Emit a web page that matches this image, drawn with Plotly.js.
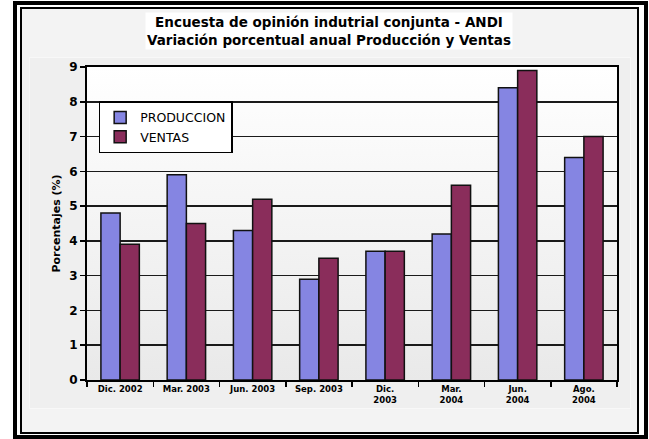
<!DOCTYPE html>
<html>
<head>
<meta charset="utf-8">
<script src="https://cdn.plot.ly/plotly-3.0.1.min.js"></script>
<style>
  html, body { margin: 0; padding: 0; background: #ffffff; }
  #wrap { position: relative; width: 649px; height: 439px; overflow: hidden; }
  .abs { position: absolute; box-sizing: border-box; }
  #outer { left: 13px; top: 1px; width: 635px; height: 438px; border: 4px solid #000; }
  #inner { left: 20px; top: 7px; width: 619px; height: 427px; border: 2px solid #000; background: #f3f3f3; }
  #chartbox { left: 29px; top: 57px; width: 602px; height: 352px; background: #efefef; border: 1px solid #f8f8f8; }
  #plotbg { left: 87px; top: 67px; width: 530px; height: 313px; background: linear-gradient(#ffffff, #e9e9e9); }
  #chart { position: absolute; left: 0; top: 0; width: 649px; height: 439px; }
</style>
</head>
<body>
<div id="wrap">
  <div class="abs" id="outer"></div>
  <div class="abs" id="inner"></div>
  <div class="abs" id="chartbox"></div>
  <div class="abs" id="plotbg"></div>
  <div id="chart"></div>
</div>
<script>
var categories = ["Dic. 2002", "Mar. 2003", "Jun. 2003", "Sep. 2003", "Dic.<br>2003", "Mar.<br>2004", "Jun.<br>2004", "Ago.<br>2004"];
var produccion = [4.8, 5.9, 4.3, 2.9, 3.7, 4.2, 8.4, 6.4];
var ventas = [3.9, 4.5, 5.2, 3.5, 3.7, 5.6, 8.9, 7.0];
var yTicks = [0, 1, 2, 3, 4, 5, 6, 7, 8, 9];

var FONT = "DejaVu Sans, Verdana, sans-serif";

var traces = [
  {
    type: "bar", name: "PRODUCCION", x: categories, y: produccion,
    marker: { color: "#8585e2", line: { color: "#111", width: 1.5 } },
    hoverinfo: "skip"
  },
  {
    type: "bar", name: "VENTAS", x: categories, y: ventas,
    marker: { color: "#8a2d5b", line: { color: "#111", width: 1.5 } },
    hoverinfo: "skip"
  }
];

var layout = {
  width: 649, height: 439,
  margin: { l: 87, r: 32, t: 67, b: 59, pad: 0 },
  paper_bgcolor: "rgba(0,0,0,0)",
  plot_bgcolor: "rgba(0,0,0,0)",
  barmode: "group",
  bargap: 0.42,
  bargroupgap: 0,
  font: { family: FONT, color: "#000" },
  showlegend: true,
  legend: {
    x: 0.022, y: 0.89, xanchor: "left", yanchor: "top",
    bgcolor: "#ffffff", bordercolor: "#000", borderwidth: 1.5,
    font: { family: FONT, size: 12.5, color: "#000" },
    itemwidth: 30, tracegroupgap: 0
  },
  xaxis: {
    type: "category",
    showline: true, linecolor: "#000", linewidth: 2, mirror: true,
    ticks: "outside", tickson: "boundaries", ticklen: 5, tickwidth: 1.5, tickcolor: "#000",
    tickfont: { family: FONT, size: 8.5, color: "#000", weight: "bold" },
    showgrid: false, zeroline: false, tickangle: 0,
    fixedrange: true
  },
  yaxis: {
    range: [0, 9], tickvals: yTicks, ticktext: yTicks.map(String),
    showline: true, linecolor: "#000", linewidth: 2, mirror: true,
    ticks: "outside", ticklen: 5, tickwidth: 1.5, tickcolor: "#000",
    tickfont: { family: FONT, size: 12, color: "#000", weight: "bold" },
    showgrid: true, gridcolor: "#1a1a1a", gridwidth: 1.5,
    zeroline: false,
    title: { text: "Porcentajes (%)", font: { family: FONT, size: 11, color: "#000", weight: "bold" }, standoff: 6 },
    fixedrange: true
  },
  annotations: [
    {
      xref: "paper", yref: "paper", x: 0.4557, y: 1.114, xanchor: "center", yanchor: "middle",
      text: "<b>Encuesta de opinión indutrial conjunta - ANDI<br>Variación porcentual anual Producción y Ventas</b>",
      showarrow: false, bgcolor: "#ffffff", borderpad: 1,
      font: { family: FONT, size: 13.5, color: "#000" }
    }
  ]
};

Plotly.newPlot("chart", traces, layout, { displayModeBar: false, staticPlot: true });
</script>
</body>
</html>
